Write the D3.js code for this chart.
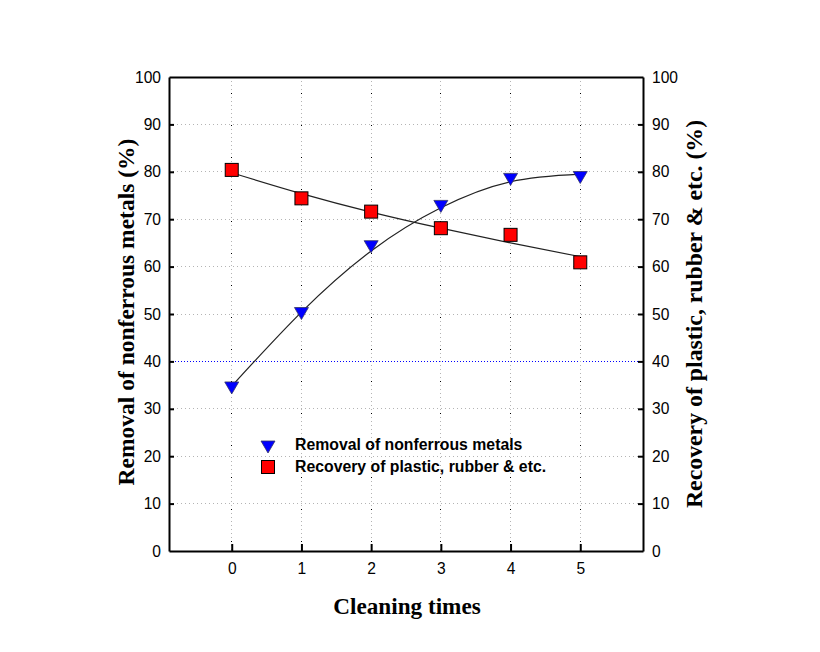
<!DOCTYPE html>
<html>
<head>
<meta charset="utf-8">
<script src="https://cdn.jsdelivr.net/npm/d3@7"></script>
<style>
  html, body { margin: 0; padding: 0; background: #fff; }
  svg { display: block; }
</style>
</head>
<body>
<svg id="chart" width="820" height="652"></svg>
<script>
// ---- data ----
const cleaningTimes = [0, 1, 2, 3, 4, 5];
const removalNonferrous = [34.4, 50.1, 64.2, 72.7, 78.4, 78.8];
const recoveryPlastic = [80.4, 74.4, 71.6, 68.1, 66.7, 60.9];
// fitted trend curves
const removalFit = [34.8, 50.4, 63.3, 72.4, 77.9, 79.5];
const recoveryFit = [79.8, 75.4, 71.5, 68.1, 65.0, 62.1];
const xTicks = [0, 1, 2, 3, 4, 5];
const yTicks = [0, 10, 20, 30, 40, 50, 60, 70, 80, 90, 100];
const legendLabels = ["Removal of nonferrous metals", "Recovery of plastic, rubber & etc."];
const titles = {
  left: "Removal of nonferrous metals (%)",
  right: "Recovery of plastic, rubber & etc. (%)",
  bottom: "Cleaning times"
};

const svg = d3.select("#chart");
const L = 169, R = 643, T = 77, B = 551;
const x = d3.scaleLinear().domain([-0.9, 5.9]).range([L, R]);
const y = d3.scaleLinear().domain([0, 100]).range([B, T]);

// ---- grid ----
const grid = svg.append("g");
grid.selectAll("line.h").data(yTicks.filter(d => d > 0 && d < 100)).enter().append("line")
  .attr("x1", L).attr("x2", R).attr("y1", d => y(d)).attr("y2", d => y(d))
  .attr("stroke", d => d === 40 ? "#0000ff" : "#b4b4b4")
  .attr("stroke-width", 1)
  .attr("stroke-dasharray", d => d === 40 ? "1,2" : "1,3")
  .attr("shape-rendering", "crispEdges");
grid.selectAll("line.v").data(xTicks).enter().append("line")
  .attr("x1", d => x(d)).attr("x2", d => x(d)).attr("y1", T).attr("y2", B)
  .attr("stroke", "#b4b4b4").attr("stroke-width", 1)
  .attr("stroke-dasharray", "1,3")
  .attr("shape-rendering", "crispEdges");
grid.selectAll("line.vb").data(xTicks).enter().append("line")
  .attr("x1", d => x(d)).attr("x2", d => x(d)).attr("y1", T + 16).attr("y2", B)
  .attr("stroke", "#000").attr("stroke-width", 1)
  .attr("stroke-dasharray", "1,31")
  .attr("shape-rendering", "crispEdges");

// ---- axes ----
const axisFont = "'Liberation Sans', Arial, sans-serif";
const gL = svg.append("g").attr("transform", `translate(${L},0)`)
  .call(d3.axisLeft(y).tickValues(yTicks).tickFormat(d3.format("d")).tickSizeInner(-5).tickSizeOuter(0).tickPadding(8));
const gR = svg.append("g").attr("transform", `translate(${R},0)`)
  .call(d3.axisRight(y).tickValues(yTicks).tickFormat(d3.format("d")).tickSizeInner(-5).tickSizeOuter(0).tickPadding(9));
const gB = svg.append("g").attr("transform", `translate(0,${B})`)
  .call(d3.axisBottom(x).tickValues(xTicks).tickFormat(d3.format("d")).tickSizeInner(-7).tickSizeOuter(0).tickPadding(12));
const gT = svg.append("g").attr("transform", `translate(0,${T})`)
  .call(d3.axisTop(x).tickValues([]).tickSizeOuter(0));
[gL, gR, gB, gT].forEach(g => {
  g.select(".domain").attr("stroke", "#000").attr("stroke-width", 2);
  g.selectAll(".tick line").attr("stroke", "#000").attr("stroke-width", 2);
  g.selectAll(".tick text").attr("font-family", axisFont).attr("font-size", 15.6).attr("fill", "#000");
});
gL.selectAll(".tick line").filter(d => d === 0 || d === 100).remove();
gR.selectAll(".tick line").filter(d => d === 0 || d === 100).remove();

// ---- fit curves ----
const line = d3.line().x((d, i) => x(cleaningTimes[i])).y(d => y(d)).curve(d3.curveNatural);
svg.append("path").datum(removalFit).attr("d", line)
  .attr("fill", "none").attr("stroke", "#222").attr("stroke-width", 1.2);
svg.append("path").datum(recoveryFit).attr("d", line)
  .attr("fill", "none").attr("stroke", "#222").attr("stroke-width", 1.2);

// ---- markers ----
const tri = (cx, cy) => `M${cx - 7},${cy - 6}L${cx + 7},${cy - 6}L${cx},${cy + 6}Z`;
svg.append("g").selectAll("rect").data(recoveryPlastic).enter().append("rect")
  .attr("x", (d, i) => x(cleaningTimes[i]) - 6.5).attr("y", d => y(d) - 6.5)
  .attr("width", 13).attr("height", 13)
  .attr("fill", "#ff0000").attr("stroke", "#000").attr("stroke-width", 1);
svg.append("g").selectAll("path").data(removalNonferrous).enter().append("path")
  .attr("d", (d, i) => tri(x(cleaningTimes[i]), y(d)))
  .attr("fill", "#0000ff").attr("stroke", "#333366").attr("stroke-width", 0.8);

// ---- legend ----
const legFont = "'Liberation Sans', Arial, sans-serif";
svg.append("path").attr("d", tri(268, 447)).attr("fill", "#0000ff").attr("stroke", "#333366").attr("stroke-width", 0.8);
svg.append("rect").attr("x", 261.5).attr("y", 460.5).attr("width", 13).attr("height", 13)
  .attr("fill", "#ff0000").attr("stroke", "#000");
svg.append("text").attr("x", 295).attr("y", 450).text(legendLabels[0])
  .attr("font-family", legFont).attr("font-size", 15.8).attr("font-weight", "bold");
svg.append("text").attr("x", 295).attr("y", 472).text(legendLabels[1])
  .attr("font-family", legFont).attr("font-size", 15.8).attr("font-weight", "bold");

// ---- titles ----
const titleFont = "'Liberation Serif', 'Times New Roman', serif";
svg.append("text").attr("transform", `translate(134,${(T + B) / 2 - 2}) rotate(-90)`)
  .attr("text-anchor", "middle").text(titles.left)
  .attr("font-family", titleFont).attr("font-size", 23.5).attr("font-weight", "bold");
svg.append("text").attr("transform", `translate(702,${(T + B) / 2}) rotate(-90)`)
  .attr("text-anchor", "middle").text(titles.right)
  .attr("font-family", titleFont).attr("font-size", 23.8).attr("font-weight", "bold");
svg.append("text").attr("x", 407).attr("y", 614)
  .attr("text-anchor", "middle").text(titles.bottom)
  .attr("font-family", titleFont).attr("font-size", 23.2).attr("font-weight", "bold");
</script>
</body>
</html>
